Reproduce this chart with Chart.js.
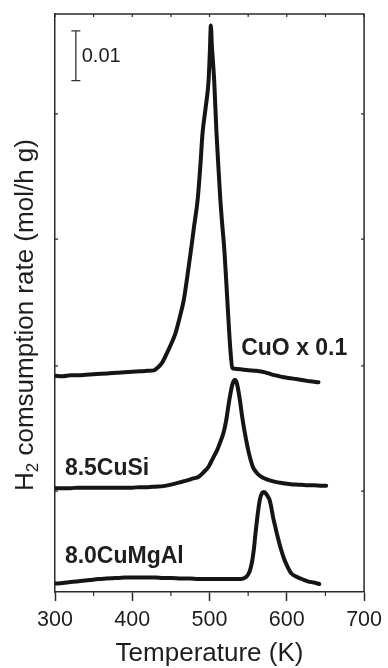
<!DOCTYPE html>
<html>
<head>
<meta charset="utf-8">
<title>H2-TPR profiles</title>
<script src="https://cdn.jsdelivr.net/npm/chart.js@4.4.1/dist/chart.umd.min.js"></script>
<style>
  html, body { margin: 0; padding: 0; background: #fff; }
  #tpr-chart { display: block; width: 388px; height: 668px; }
</style>
</head>
<body>
<canvas id="tpr-chart" width="388" height="668"></canvas>
<script>
// ============================================================
// DATA  (y in 10^-3 mol/h g, offset stacked)
// ============================================================

const xMajorTicks = [300, 400, 500, 600, 700];
const xMinorTicks = [350, 450, 550, 650];
const yTickValues = [20.3, 45.5, 71.0, 96.2];

const xTitle = "Temperature (K)";
const yTitleMain = "H";
const yTitleSub  = "2";
const yTitleRest = " comsumption rate (mol/h g)";

const sampleLabels = ["CuO x 0.1", "8.5CuSi", "8.0CuMgAl"];
const labelT = [541, 312.8, 312.8];
const labelV = [47.7, 23.5, 5.8];

// scale bar "0.01"
const scaleBarT = 327;
const scaleBarV = [102.9, 112.9];
const scaleBarText = "0.01";
const scaleBarTextT = 334.6;
const scaleBarTextV = 107.8;

// CuO x 0.1
const cuoT = [300, 310, 320, 330, 340, 350, 360, 370, 380, 390,
              400, 410, 420, 428, 432, 438.5, 445, 450, 456, 461,
              466.7, 471, 476, 480, 484.6, 488, 491, 495, 498.8, 500.5,
              501.7, 503, 506, 509, 511.5, 514, 516.5, 519.2, 523, 527,
              529.5, 533, 540, 550, 560, 572, 580, 588, 596, 605,
              614, 622, 630, 641];
const cuoV = [43.5, 43.4, 43.6, 43.6, 43.7, 43.8, 43.9, 44.0, 44.1, 44.2,
              44.3, 44.4, 44.5, 44.6, 45.0, 46.1, 48.1, 49.8, 52.1, 55.0,
              58.8, 63.2, 68.8, 73.6, 78.9, 85.5, 92.4, 97.5, 103, 109,
              114, 110, 103, 92.4, 85.5, 78.9, 73.8, 68.8, 58.8, 48.7,
              45.1, 44.9, 44.8, 44.6, 44.5, 44.2, 43.8, 43.5, 43.2, 43.0,
              42.8, 42.6, 42.4, 42.2];

// 8.5CuSi
const cusiT = [300, 310, 320, 330, 340, 350, 360, 370, 380, 390,
               400, 410, 420, 430, 440, 450, 460, 470, 478, 486,
               493, 498.7, 504, 510, 514, 518, 521.5, 525.6, 529, 531,
               532.7, 534.5, 536.5, 539.3, 542.5, 545.7, 550, 556, 561, 566.7,
               575, 584, 595, 605, 615, 625, 635, 645, 651];
const cusiV = [20.9, 20.9, 20.9, 21.0, 21.0, 21.0, 21.0, 21.0, 21.0, 21.0,
               21.0, 21.1, 21.1, 21.2, 21.3, 21.6, 22.0, 22.4, 22.8, 23.2,
               24.2, 25.2, 26.8, 28.6, 30.2, 32, 34.5, 38.6, 41.4, 42.4,
               42.7, 42.4, 41.2, 38.6, 35, 32, 28.6, 25.2, 24.0, 23.2,
               22.6, 22.2, 21.9, 21.7, 21.6, 21.5, 21.5, 21.4, 21.4];

// 8.0CuMgAl
const cumgalT = [300, 310, 320, 333, 345, 356, 366, 378, 390, 400,
                 409, 420, 430, 440, 451, 463, 475, 485, 494.5, 505,
                 515, 526, 537, 543, 546, 549, 551.5, 553.5, 555.5, 557.3,
                 559.5, 562, 565, 568, 570.5, 573, 575.5, 577.8, 580, 582,
                 585, 587.5, 590, 592.7, 596, 600, 605.5, 612, 618, 622.7,
                 628, 635, 642];
const cumgalV = [1.7, 1.8, 2.0, 2.2, 2.4, 2.6, 2.7, 2.8, 2.9, 2.9,
                 2.9, 2.9, 2.9, 2.8, 2.8, 2.7, 2.7, 2.6, 2.6, 2.6,
                 2.6, 2.6, 2.6, 2.7, 2.9, 3.3, 4.0, 5.0, 6.5, 8.5,
                 11.8, 15.2, 18.5, 19.9, 20.1, 19.8, 19.2, 18.5, 17.0, 15.2,
                 13.2, 11.5, 10.0, 8.5, 6.9, 5.4, 3.8, 3.1, 2.7, 2.4,
                 2.1, 1.9, 1.6];

// ============================================================
// STYLE
// ============================================================

const FONT   = "'Liberation Sans', Arial, Helvetica, sans-serif";
const TEXT   = "#1e1e1e";
const AXIS   = "#2a2a2a";
const LINE   = "#151515";

function makeSeries(temps, values) {
  return {
    data: temps.map((t, i) => ({ x: t, y: values[i] })),
    borderColor: LINE,
    borderWidth: 4,
    pointRadius: 0,
    fill: false,
    cubicInterpolationMode: "monotone",
    borderJoinStyle: "round",
    borderCapStyle: "round",
  };
}

// ============================================================
// PLUGIN: frame, inward / minor ticks, scale bar, texts
// ============================================================

const tprDecor = {
  id: "tprDecor",
  afterDraw(chart) {
    const { ctx, chartArea: a, scales: { x, y } } = chart;
    ctx.save();

    // top + right frame
    ctx.strokeStyle = AXIS;
    ctx.lineWidth = 1.5;
    ctx.beginPath();
    ctx.moveTo(a.left, a.top);
    ctx.lineTo(a.right, a.top);
    ctx.lineTo(a.right, a.bottom);
    ctx.stroke();

    // ticks
    ctx.lineWidth = 1.2;
    ctx.beginPath();
    xMinorTicks.forEach(t => {
      const px = x.getPixelForValue(t);
      ctx.moveTo(px, a.bottom);
      ctx.lineTo(px, a.bottom + 4);
    });
    xMajorTicks.concat(xMinorTicks).forEach(t => {
      const px = x.getPixelForValue(t);
      ctx.moveTo(px, a.top);
      ctx.lineTo(px, a.top + 3);
    });
    yTickValues.forEach(v => {
      const py = y.getPixelForValue(v);
      ctx.moveTo(a.left, py);
      ctx.lineTo(a.left + 3, py);
      ctx.moveTo(a.right, py);
      ctx.lineTo(a.right - 3, py);
    });
    ctx.stroke();

    // scale bar
    const bx  = x.getPixelForValue(scaleBarT);
    const by0 = y.getPixelForValue(scaleBarV[0]);
    const by1 = y.getPixelForValue(scaleBarV[1]);
    ctx.strokeStyle = "#333";
    ctx.lineWidth = 1.3;
    ctx.beginPath();
    ctx.moveTo(bx, by0); ctx.lineTo(bx, by1);
    ctx.moveTo(bx - 4.5, by0); ctx.lineTo(bx + 4.5, by0);
    ctx.moveTo(bx - 4.5, by1); ctx.lineTo(bx + 4.5, by1);
    ctx.stroke();

    ctx.fillStyle = TEXT;
    ctx.textAlign = "left";
    ctx.textBaseline = "middle";
    ctx.font = `20px ${FONT}`;
    ctx.fillText(scaleBarText, x.getPixelForValue(scaleBarTextT), y.getPixelForValue(scaleBarTextV));

    // sample labels
    ctx.textBaseline = "alphabetic";
    ctx.font = `bold 23px ${FONT}`;
    sampleLabels.forEach((s, i) => {
      ctx.fillText(s, x.getPixelForValue(labelT[i]), y.getPixelForValue(labelV[i]));
    });

    // y title with subscript
    ctx.translate(32.5, 315);
    ctx.rotate(-Math.PI / 2);
    const mainFont = `26px ${FONT}`;
    const subFont  = `17px ${FONT}`;
    ctx.font = mainFont;
    const wH = ctx.measureText(yTitleMain).width;
    const wRest = ctx.measureText(yTitleRest).width;
    ctx.font = subFont;
    const wSub = ctx.measureText(yTitleSub).width;
    let cx = -(wH + wSub + wRest) / 2;
    ctx.font = mainFont;
    ctx.fillText(yTitleMain, cx, 0);
    cx += wH;
    ctx.font = subFont;
    ctx.fillText(yTitleSub, cx, 5);
    cx += wSub;
    ctx.font = mainFont;
    ctx.fillText(yTitleRest, cx, 0);

    ctx.restore();
  },
};

// ============================================================
// CHART
// ============================================================

const tprChart = new Chart(document.getElementById("tpr-chart"), {
  type: "line",
  data: {
    datasets: [
      makeSeries(cuoT, cuoV),
      makeSeries(cusiT, cusiV),
      makeSeries(cumgalT, cumgalV),
    ],
  },
  options: {
    responsive: false,
    animation: false,
    layout: { padding: { top: 14, right: 21, left: 0, bottom: 0 } },
    plugins: {
      legend: { display: false },
      tooltip: { enabled: false },
    },
    scales: {
      x: {
        type: "linear",
        min: 300,
        max: 700,
        afterBuildTicks: s => { s.ticks = xMajorTicks.map(v => ({ value: v })); },
        afterFit: s => { s.height = 76; },
        grid: {
          display: true,
          drawOnChartArea: false,
          drawTicks: true,
          tickLength: 9,
          tickColor: AXIS,
          tickWidth: 1.5,
        },
        border: { display: true, color: AXIS, width: 1.5 },
        ticks: {
          color: TEXT,
          font: { family: FONT, size: 21.5 },
          padding: 6,
          maxRotation: 0,
          autoSkip: false,
        },
        title: {
          display: true,
          text: xTitle,
          color: TEXT,
          font: { family: FONT, size: 26, lineHeight: 1.1 },
          padding: 0,
        },
      },
      y: {
        type: "linear",
        min: 0,
        max: 116.3,
        afterBuildTicks: s => { s.ticks = yTickValues.map(v => ({ value: v })); },
        afterFit: s => { s.width = 55; },
        grid: { display: false },
        border: { display: true, color: AXIS, width: 1.5 },
        ticks: { display: false },
      },
    },
  },
  plugins: [tprDecor],
});
</script>
</body>
</html>
